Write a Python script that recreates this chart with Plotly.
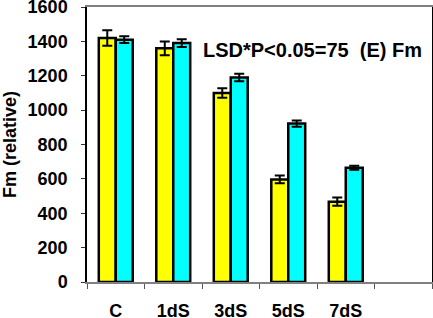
import plotly.graph_objects as go

categories = ["C", "1dS", "3dS", "5dS", "7dS"]
slots = ["C", "1dS", "3dS", "5dS", "7dS", " "]
yellow_vals = [1420, 1360, 1100, 597, 467]
yellow_err = [45, 40, 28, 22, 24]
cyan_vals = [1410, 1390, 1190, 922, 665]
cyan_err = [20, 22, 22, 18, 12]
y_ticks = [0, 200, 400, 600, 800, 1000, 1200, 1400, 1600]
annotation_text = "LSD*P<0.05=75  (E) Fm"
y_title = "Fm (relative)"

FONT = "Arial, Liberation Sans, sans-serif"

fig = go.Figure()
fig.add_trace(go.Bar(
    x=categories, y=yellow_vals,
    marker=dict(color="#FFFF00", line=dict(color="black", width=2.5)),
    error_y=dict(type="data", array=yellow_err, color="black", thickness=2, width=5),
))
fig.add_trace(go.Bar(
    x=categories, y=cyan_vals,
    marker=dict(color="#00FFFF", line=dict(color="black", width=2.5)),
    error_y=dict(type="data", array=cyan_err, color="black", thickness=2, width=5),
))

fig.update_layout(
    width=433, height=318,
    margin=dict(l=87, r=1, t=7, b=36),
    paper_bgcolor="white", plot_bgcolor="white",
    barmode="group", bargap=0.41, bargroupgap=0,
    showlegend=False,
    font=dict(family=FONT, size=18, color="black", weight=700),
    annotations=[dict(
        x=0.655, y=1350, xref="paper", yref="y",
        text=annotation_text, showarrow=False,
        font=dict(family=FONT, size=20, color="black", weight=700),
        xanchor="center", yanchor="middle",
    )],
)
fig.update_xaxes(
    type="category", categoryorder="array", categoryarray=slots,
    range=[-0.5, 5.5], automargin=False,
    tickson="boundaries", ticks="outside", ticklen=5, tickwidth=1, tickcolor="#555",
    showline=True, linecolor="#808080", linewidth=2, mirror=True,
    showgrid=False, ticklabelstandoff=11,
    tickfont=dict(family=FONT, size=18, color="black", weight=700),
)
fig.update_yaxes(
    range=[0, 1600], tickvals=y_ticks, automargin=False,
    ticks="outside", ticklen=4, tickwidth=1, tickcolor="#333",
    showline=True, linecolor="black", linewidth=1.5, mirror=True,
    showgrid=False, zeroline=False, ticklabelstandoff=10,
    ticklabeloverflow="allow",
    tickfont=dict(family=FONT, size=18, color="black", weight=700),
    title=dict(text=y_title, standoff=8,
               font=dict(family=FONT, size=18, color="black", weight=700)),
)

fig.write_html(
    "out.html",
    config={"displayModeBar": False},
    post_script="document.body.style.margin='0';document.body.style.padding='0';",
)
